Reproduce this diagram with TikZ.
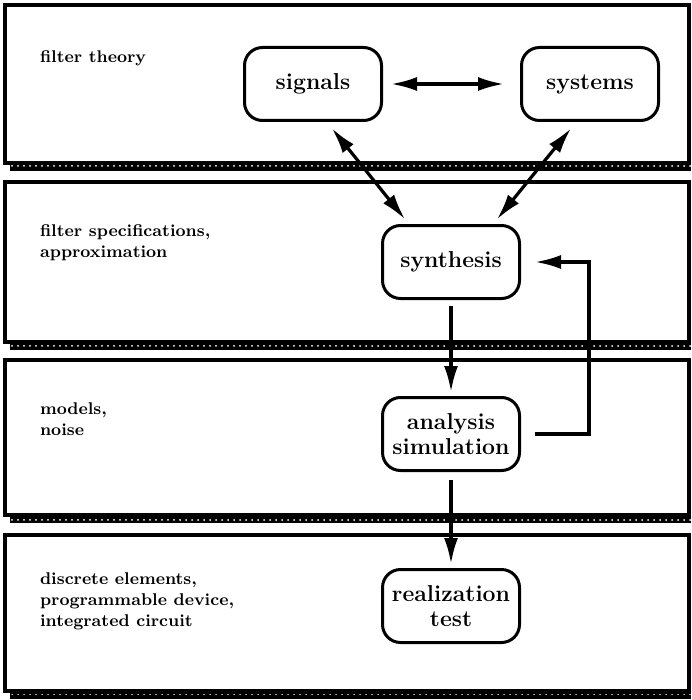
\documentclass[tikz,border=0pt]{standalone}
\usetikzlibrary{arrows.meta,positioning,patterns}

\begin{document}
\begin{tikzpicture}[x=0.5pt, y=-0.5pt, node distance={86pt}, >={Latex[length=13pt,width=7pt]},
    main/.style = {draw, line width=1.5pt, rounded corners=9pt, minimum width=68.5pt, minimum height=36.5pt, align=center, font=\fontsize{11.5}{12.5}\selectfont\bfseries},
    lab/.style = {anchor=west, align=left, font=\fontsize{8.5}{10.5}\selectfont\bfseries},
    band/.style = {line width=1.6pt},
    link/.style = {line width=1.6pt}]
    \useasboundingbox (0,0) rectangle (691,700);
    \foreach \t/\b in {5/163, 182/342, 360/515, 535/691} {
        \draw[band] (5,\t) rectangle (689,\b);
        \fill[black] (10,\b+2) rectangle (691,\b+8);
        \fill[pattern=dots, pattern color=white] (10,\b+3) rectangle (691,\b+7);
    }

    \node[lab] (l_1) at (33,58) {filter theory};
    \node[lab] (l_2) at (33,243) {filter specifications,\\approximation};
    \node[lab] (l_3) at (33,419) {models,\\noise};
    \node[lab] (l_4) at (33,601) {discrete elements,\\programmable device,\\integrated circuit};

    \node[main] (signals) at (313,84) {signals};
    \node[main] (systems) at (590,84) {systems};
    \node[main] (synthesis) at (451,262) {synthesis};
    \node[main] (analysis) [below of=synthesis] {analysis\\simulation};
    \node[main] (realization) [below of=analysis] {realization\\test};

    \draw[<->, link, shorten <=4pt, shorten >=8pt] (signals) -- (systems);
    \draw[<->, link, shorten <=4pt, shorten >=3pt] (signals.-70) -- (synthesis.138);
    \draw[<->, link, shorten <=4pt, shorten >=3pt] (systems.-110) -- (synthesis.42);
    \draw[->, link, shorten <=3pt, shorten >=2pt] (synthesis) -- (analysis);
    \draw[->, link, shorten <=4pt, shorten >=2pt] (analysis) -- (realization);
    \draw[->, link, shorten <=7pt, shorten >=7pt] (analysis.east) -- ++(68,0) |- (synthesis.east);
\end{tikzpicture}
\end{document}
